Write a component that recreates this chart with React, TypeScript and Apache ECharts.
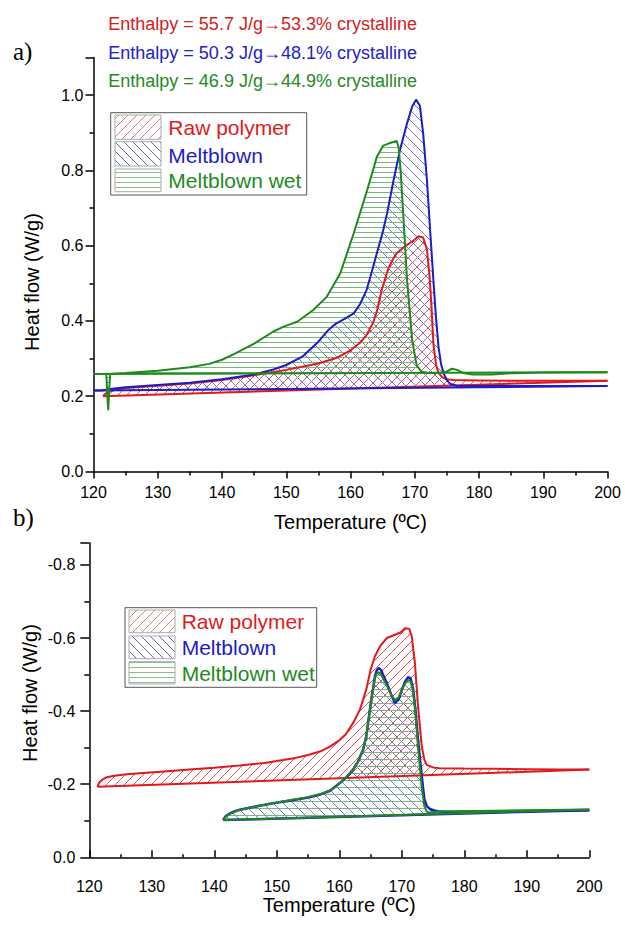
import React, { useEffect, useRef } from "react";
import * as echarts from "echarts";

const FONT = "'Liberation Sans', Arial, sans-serif";
const SERIF = "'Liberation Serif', 'Times New Roman', serif";
const RED = "#e01a1c";
const BLUE = "#1c1cc8";
const GREEN = "#1e8a1e";

// x-axis ticks (both panels)
const X_MIN = 120;
const X_MAX = 200;
const X_STEP = 10;

// ---------- panel a) ----------
const aRawT = [121.5, 121.8, 122.3, 123, 125, 130, 135, 140, 145, 150, 155, 158, 160, 161.5, 162.6, 163.5, 164.1, 164.9, 165.9, 166.7, 167.2, 168, 168.8, 169.7, 170.6, 171.3, 171.9, 172.3, 172.6, 172.9, 173.3, 173.7, 174.3, 175, 176, 180, 185, 190, 195, 200];
const aRawV = [0.200, 0.206, 0.212, 0.216, 0.222, 0.228, 0.234, 0.243, 0.256, 0.270, 0.287, 0.303, 0.322, 0.342, 0.365, 0.395, 0.425, 0.485, 0.540, 0.567, 0.580, 0.592, 0.602, 0.612, 0.625, 0.622, 0.590, 0.520, 0.440, 0.340, 0.285, 0.262, 0.250, 0.245, 0.243, 0.242, 0.241, 0.241, 0.241, 0.241];
const aRawBaseT = [121.5, 200];
const aRawBaseV = [0.200, 0.241];

const aMbT = [120, 121, 121.5, 122.5, 125, 130, 135, 140, 145, 148, 150, 152.5, 155, 156.5, 157.5, 159, 160.5, 161.5, 162.5, 163.3, 164.1, 165, 165.7, 166.7, 167.7, 168.8, 169.6, 170.2, 170.8, 171.3, 171.9, 172.4, 172.9, 173.3, 173.7, 174.1, 174.5, 175, 175.5, 176.5, 180, 190, 200];
const aMbV = [0.215, 0.215, 0.216, 0.219, 0.224, 0.230, 0.236, 0.245, 0.258, 0.271, 0.283, 0.305, 0.345, 0.375, 0.390, 0.405, 0.420, 0.445, 0.482, 0.530, 0.580, 0.635, 0.686, 0.774, 0.854, 0.925, 0.970, 0.988, 0.972, 0.900, 0.774, 0.640, 0.509, 0.410, 0.331, 0.285, 0.260, 0.243, 0.233, 0.228, 0.227, 0.227, 0.227];
const aMbBaseT = [120, 200];
const aMbBaseV = [0.215, 0.227];

const aWetT = [120, 121.5, 122.0, 122.15, 122.3, 122.45, 122.6, 123, 125, 130, 135, 138, 140, 142, 145, 148, 149.6, 151.7, 154.2, 156.3, 158.4, 160.5, 162.6, 164.1, 165.1, 166, 166.8, 167.2, 167.5, 167.8, 168.2, 168.8, 169.6, 170.3, 171, 172, 174, 175, 175.8, 176.6, 177.5, 179, 182, 185, 190, 200];
const aWetV = [0.259, 0.259, 0.259, 0.200, 0.163, 0.220, 0.259, 0.260, 0.262, 0.268, 0.277, 0.286, 0.297, 0.313, 0.340, 0.372, 0.385, 0.398, 0.429, 0.464, 0.526, 0.633, 0.748, 0.836, 0.866, 0.872, 0.876, 0.878, 0.860, 0.800, 0.686, 0.509, 0.349, 0.282, 0.266, 0.262, 0.262, 0.266, 0.273, 0.270, 0.262, 0.258, 0.258, 0.261, 0.263, 0.264];
const aWetBaseT = [120, 200];
const aWetBaseV = [0.259, 0.264];

const aYMax = 1.1;
const aYStep = 0.2;

// ---------- panel b) ----------
const bRawT = [121.3, 121.6, 122.2, 122.8, 124, 126, 128, 132, 136, 140, 144, 148, 151, 153, 155, 157, 158.5, 160, 161, 162.2, 163.3, 164.3, 165, 165.7, 166.5, 167.6, 168.9, 169.8, 170.5, 171.2, 171.6, 172.1, 172.6, 173.2, 173.6, 174, 175, 176, 180, 185, 190, 195, 200];
const bRawV = [-0.193, -0.205, -0.214, -0.219, -0.223, -0.227, -0.230, -0.235, -0.240, -0.245, -0.251, -0.258, -0.266, -0.272, -0.280, -0.290, -0.303, -0.320, -0.336, -0.367, -0.404, -0.458, -0.513, -0.550, -0.577, -0.600, -0.609, -0.615, -0.627, -0.625, -0.604, -0.531, -0.413, -0.303, -0.268, -0.253, -0.246, -0.244, -0.243, -0.242, -0.241, -0.240, -0.240];
const bRawBaseT = [121.3, 200];
const bRawBaseV = [-0.193, -0.240];

const bMbT = [141.4, 141.8, 142.5, 143.3, 144.1, 146, 149.4, 152, 154.8, 157, 158.5, 160.1, 161.2, 162.2, 163, 163.8, 164.3, 164.6, 165.2, 165.7, 166.0, 166.3, 166.7, 167.1, 167.6, 168.3, 168.9, 169.5, 170.0, 170.5, 171.0, 171.4, 171.8, 172.2, 172.6, 173.2, 173.6, 174.0, 174.5, 175.2, 176, 178, 182, 190, 200];
const bMbV = [-0.102, -0.112, -0.120, -0.126, -0.130, -0.137, -0.148, -0.155, -0.163, -0.172, -0.182, -0.203, -0.220, -0.240, -0.262, -0.294, -0.330, -0.367, -0.440, -0.495, -0.512, -0.518, -0.512, -0.495, -0.477, -0.445, -0.422, -0.432, -0.458, -0.480, -0.493, -0.490, -0.462, -0.400, -0.321, -0.221, -0.160, -0.140, -0.132, -0.128, -0.125, -0.124, -0.125, -0.127, -0.129];
const bMbBaseT = [141.4, 200];
const bMbBaseV = [-0.102, -0.129];

const bWetT = bMbT;
const bWetV = [-0.102, -0.111, -0.119, -0.125, -0.130, -0.137, -0.148, -0.156, -0.164, -0.173, -0.183, -0.204, -0.221, -0.240, -0.262, -0.294, -0.330, -0.367, -0.440, -0.490, -0.503, -0.506, -0.500, -0.486, -0.470, -0.445, -0.430, -0.438, -0.458, -0.475, -0.485, -0.482, -0.455, -0.390, -0.300, -0.190, -0.140, -0.125, -0.122, -0.124, -0.125, -0.126, -0.127, -0.129, -0.131];
const bWetBaseT = [141.4, 200];
const bWetBaseV = [-0.102, -0.131];

const bYMin = -0.86;

const LEGEND_NAMES = ["Raw polymer", "Meltblown", "Meltblown wet"];
const ENTHALPY = [
  "Enthalpy = 55.7 J/g\u219253.3% crystalline",
  "Enthalpy = 50.3 J/g\u219248.1% crystalline",
  "Enthalpy = 46.9 J/g\u219244.9% crystalline",
];
const Y_NAME = "Heat flow (W/g)";
const X_NAME = "Temperature (\u00baC)";

type Kind = "fwd" | "back" | "horiz";
// pixel-exact hatch tiles (no anti-aliasing)
function hatch(kind: Kind, color: string, size: number) {
  const c = document.createElement("canvas");
  c.width = size;
  c.height = size;
  const ctx = c.getContext("2d")!;
  ctx.fillStyle = color;
  for (let i = 0; i < size; i++) {
    if (kind === "horiz") ctx.fillRect(i, Math.floor(size / 2), 1, 1);
    else if (kind === "fwd") ctx.fillRect(i, size - 1 - i, 1, 1);
    else ctx.fillRect(i, i, 1, 1);
  }
  return { image: c, repeat: "repeat" };
}

function lineSeries(gi: number, T: number[], V: number[], color: string, width = 2) {
  return {
    type: "line",
    xAxisIndex: gi,
    yAxisIndex: gi,
    data: T.map((t, i) => [t, V[i]]),
    showSymbol: false,
    symbol: "none",
    lineStyle: { color, width },
    z: 3,
    silent: true,
  };
}

function fillSeries(gi: number, T: number[], V: number[], BT: number[], BV: number[], pattern: any) {
  return {
    type: "custom",
    xAxisIndex: gi,
    yAxisIndex: gi,
    z: 1,
    silent: true,
    clip: true,
    data: [[T[0], V[0]]],
    renderItem: (_p: any, api: any) => {
      const pts = T.map((t, i) => api.coord([t, V[i]]));
      for (let i = BT.length - 1; i >= 0; i--) pts.push(api.coord([BT[i], BV[i]]));
      return { type: "polygon", shape: { points: pts }, style: { fill: pattern, stroke: null } };
    },
  };
}

export default function App() {
  const ref = useRef<HTMLDivElement>(null);
  useEffect(() => {
    if (!ref.current) return;
    const chart = echarts.init(ref.current, undefined, { renderer: "svg" });

    const hRed = "rgb(228,80,92)";
    const hBlue = "rgb(115,115,200)";
    const hGreen = "rgb(125,182,125)";
    const pRed = hatch("fwd", hRed, 9);
    const pBlue = hatch("back", hBlue, 10);
    const pGreen = hatch("horiz", hGreen, 5);
    const pRedB = hatch("fwd", hRed, 9);
    const pBlueB = hatch("back", hBlue, 10);
    const pGreenB = hatch("horiz", hGreen, 7);
    const lRed = hatch("fwd", "rgb(232,120,130)", 9);
    const lBlue = hatch("back", "rgb(100,100,180)", 9);
    const lGreen = hatch("horiz", "rgb(140,190,140)", 5);

    const axisLine = { lineStyle: { color: "#000", width: 1.5 } };
    const lbl = { color: "#000", fontSize: 16, fontFamily: FONT };
    const nameStyle = { color: "#000", fontSize: 20, fontFamily: FONT };

    const legend = (x: number, y: number, w: number, h: number, sx: number, rows: number[][], tx: number, fs: number, pats: any[]) => {
      const els: any[] = [
        { type: "rect", shape: { x, y, width: w, height: h }, style: { fill: "#fff", stroke: "#555", lineWidth: 1 }, z: 10 },
      ];
      const cols = [RED, BLUE, GREEN];
      rows.forEach((r, i) => {
        els.push({ type: "rect", shape: { x: sx, y: r[0], width: 46, height: r[1] }, style: { fill: pats[i], stroke: "#aaa", lineWidth: 1 }, z: 12 });
        els.push({ type: "text", x: tx, y: r[2], style: { text: LEGEND_NAMES[i], fill: cols[i], font: `${fs}px ${FONT}`, verticalAlign: "middle", align: "left" }, z: 12 });
      });
      return els;
    };

    const yName = (x: number, y: number) => ({
      type: "text", x, y, rotation: Math.PI / 2,
      style: { text: Y_NAME, fill: "#000", font: `20px ${FONT}`, align: "center", verticalAlign: "middle" }, z: 10,
    });

    const option: any = {
      animation: false,
      grid: [
        { left: 93.5, right: 17.5, top: 57.5, height: 414, outerBoundsMode: "none", containLabel: false },
        { left: 89.3, right: 35.7, top: 543, height: 314.3, outerBoundsMode: "none", containLabel: false },
      ],
      xAxis: [
        {
          gridIndex: 0, type: "value", min: X_MIN, max: X_MAX, interval: X_STEP,
          name: X_NAME, nameLocation: "middle", nameGap: 40, nameTextStyle: nameStyle,
          axisLine, axisTick: { length: 7, lineStyle: { color: "#000", width: 1.5 } },
          minorTick: { show: true, splitNumber: 2, length: 4, lineStyle: { color: "#000", width: 1.5 } },
          axisLabel: { ...lbl, margin: 13 }, splitLine: { show: false }, minorSplitLine: { show: false },
        },
        {
          gridIndex: 1, type: "value", min: X_MIN, max: X_MAX, interval: X_STEP,
          name: X_NAME, nameLocation: "middle", nameGap: 38, nameTextStyle: nameStyle,
          axisLine, axisTick: { inside: true, length: 7, lineStyle: { color: "#000", width: 1.5 } },
          minorTick: { show: true, splitNumber: 2, length: 3, lineStyle: { color: "#000", width: 1.5 } },
          axisLabel: { ...lbl, margin: 21 }, splitLine: { show: false }, minorSplitLine: { show: false },
        },
      ],
      yAxis: [
        {
          gridIndex: 0, type: "value", min: 0, max: aYMax, interval: aYStep,
          axisLine: { show: true, ...axisLine }, axisTick: { show: true, length: 8, lineStyle: { color: "#000", width: 1.5 } },
          minorTick: { show: true, splitNumber: 2, length: 4, lineStyle: { color: "#000", width: 1.5 } },
          axisLabel: { ...lbl, margin: 10, showMaxLabel: false, formatter: (v: number) => v.toFixed(1) },
          splitLine: { show: false }, minorSplitLine: { show: false },
        },
        {
          gridIndex: 1, type: "value", min: bYMin, max: 0, inverse: true, splitNumber: 5,
          axisLine: { show: true, ...axisLine }, axisTick: { show: true, length: 9, lineStyle: { color: "#000", width: 1.5 } },
          minorTick: { show: true, splitNumber: 2, length: 5, lineStyle: { color: "#000", width: 1.5 } },
          axisLabel: { ...lbl, margin: 14, showMinLabel: false, formatter: (v: number) => v.toFixed(1) },
          splitLine: { show: false }, minorSplitLine: { show: false },
        },
      ],
      series: [
        fillSeries(0, aRawT, aRawV, aRawBaseT, aRawBaseV, pRed),
        fillSeries(0, aMbT, aMbV, aMbBaseT, aMbBaseV, pBlue),
        fillSeries(0, aWetT, aWetV, aWetBaseT, aWetBaseV, pGreen),
        lineSeries(0, aRawBaseT, aRawBaseV, RED),
        lineSeries(0, aRawT, aRawV, RED),
        lineSeries(0, aMbBaseT, aMbBaseV, BLUE),
        lineSeries(0, aMbT, aMbV, BLUE),
        lineSeries(0, aWetBaseT, aWetBaseV, GREEN),
        lineSeries(0, aWetT, aWetV, GREEN),

        fillSeries(1, bRawT, bRawV, bRawBaseT, bRawBaseV, pRedB),
        fillSeries(1, bMbT, bMbV, bMbBaseT, bMbBaseV, pBlueB),
        fillSeries(1, bWetT, bWetV, bWetBaseT, bWetBaseV, pGreenB),
        lineSeries(1, bRawBaseT, bRawBaseV, RED),
        lineSeries(1, bRawT, bRawV, RED),
        lineSeries(1, bMbBaseT, bMbBaseV, BLUE, 2.5),
        lineSeries(1, bMbT, bMbV, BLUE, 2.5),
        lineSeries(1, bWetBaseT, bWetBaseV, GREEN),
        lineSeries(1, bWetT, bWetV, GREEN),
      ],
      graphic: [
        { type: "text", x: 13, y: 51, style: { text: "a)", fill: "#000", font: `25px ${SERIF}`, verticalAlign: "middle" }, z: 10 },
        { type: "text", x: 13, y: 517, style: { text: "b)", fill: "#000", font: `25px ${SERIF}`, verticalAlign: "middle" }, z: 10 },
        { type: "text", x: 108.3, y: 24, style: { text: ENTHALPY[0], fill: "#d42222", font: `18px ${FONT}`, verticalAlign: "middle" }, z: 10 },
        { type: "text", x: 108.3, y: 52.7, style: { text: ENTHALPY[1], fill: "#2222c4", font: `18px ${FONT}`, verticalAlign: "middle" }, z: 10 },
        { type: "text", x: 108.3, y: 81, style: { text: ENTHALPY[2], fill: "#248a24", font: `18px ${FONT}`, verticalAlign: "middle" }, z: 10 },
        yName(32, 282),
        yName(30, 693),
        ...legend(110.7, 112.7, 196, 82.3, 115, [[115, 24.3, 127.3], [141.7, 24.3, 155], [169, 22.7, 180]], 168.3, 21, [lRed, lBlue, lGreen]),
        ...legend(125, 607.7, 191.7, 79.6, 129, [[610, 22.7, 621.7], [636, 22.7, 647.3], [661.7, 22.3, 673.3]], 181.7, 21, [lRed, lBlue, lGreen]),
      ],
    };
    chart.setOption(option);
    return () => chart.dispose();
  }, []);
  return <div ref={ref} style={{ position: "absolute", left: 0, top: 0, width: 625, height: 928, background: "#fff" }} />;
}
